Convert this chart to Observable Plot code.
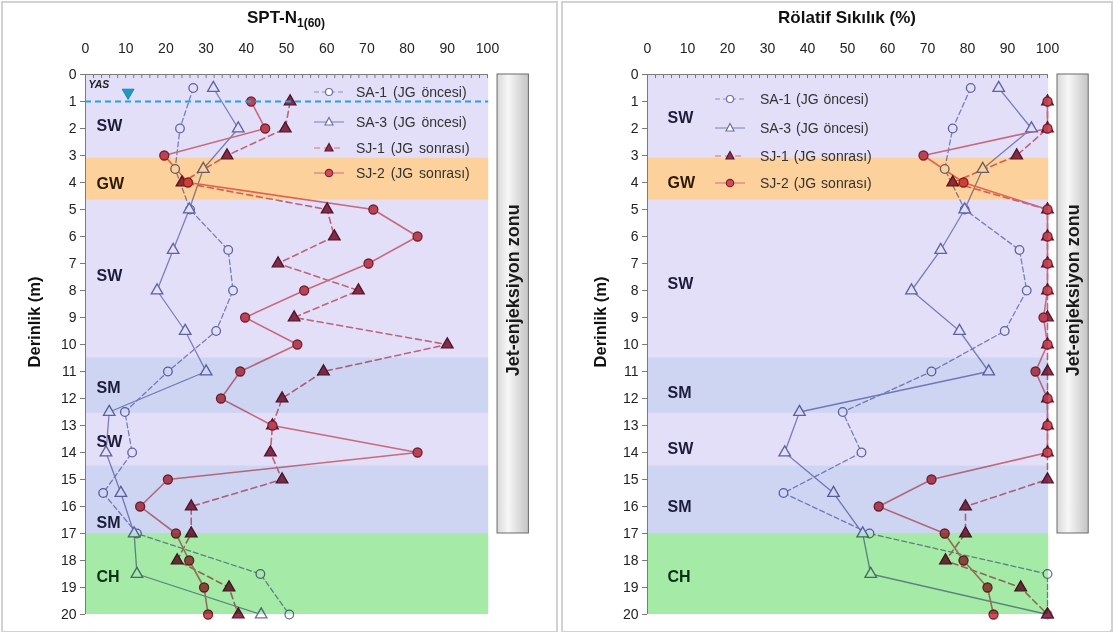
<!DOCTYPE html>
<html><head><meta charset="utf-8">
<script src="https://cdn.jsdelivr.net/npm/d3@7"></script>
<script src="https://cdn.jsdelivr.net/npm/@observablehq/plot@0.6"></script>
<style>
body{margin:0;background:#fff;font-family:"Liberation Sans",Arial,sans-serif;}
#root{position:relative;width:1114px;height:634px;overflow:hidden;background:#fff;}
.panel{position:absolute;top:1px;height:631px;border:2px solid #d2d2d2;box-sizing:border-box;}
.chart{position:absolute;top:3px;}
.title{position:absolute;top:8px;font-weight:bold;font-size:17px;transform:translateX(-50%);white-space:nowrap;color:#111;}
.title sub{font-size:12px;vertical-align:-4px;line-height:0;}
.ylab{position:absolute;font-weight:bold;font-size:16.5px;transform:translate(-50%,-50%) rotate(-90deg);white-space:nowrap;color:#111;}
.lrow{position:absolute;white-space:nowrap;display:flex;align-items:center;font-size:14px;color:#333;}
.lrow svg{display:block;}
</style></head>
<body><div id="root"></div>
<script>
// ---------------- DATA ----------------
const depthsSA = [0.5, 2, 3.5, 5, 6.5, 8, 9.5, 11, 12.5, 14, 15.5, 17, 18.5, 20];
const depthsSJ = [1, 2, 3, 4, 5, 6, 7, 8, 9, 10, 11, 12, 13, 14, 15, 16, 17, 18, 19, 20];

// SPT-N1(60)
const sptSA1 = [26.8, 23.5, 22.3, 26, 35.5, 36.7, 32.5, 20.5, 9.8, 11.6, 4.4, 12.8, 43.5, 50.7];
const sptSA3 = [31.8, 38, 29.3, 25.8, 21.8, 17.8, 24.8, 30, 5.9, 5.1, 8.8, 12.1, 12.8, 43.7];
const sptSJ1 = [50.9, 49.7, 35.2, 24, 60.1, 61.9, 47.9, 67.9, 51.9, 90, 59.2, 48.9, 46.5, 46, 48.9, 26.3, 26.3, 22.8, 35.7, 38];
const sptSJ2 = [41.2, 44.7, 19.6, 25.5, 71.6, 82.6, 70.4, 54.4, 39.7, 52.7, 38.5, 33.7, 46.5, 82.6, 20.5, 13.6, 22.5, 25.8, 29.5, 30.5];

// Rölatif Sıkılık (%)
const drSA1 = [80.8, 76.3, 74.3, 79.3, 93, 94.8, 89.3, 71, 48.8, 53.5, 34, 55.5, 100, 100];
const drSA3 = [87.8, 96, 83.8, 79.3, 73.3, 66, 78, 85.3, 38, 34.3, 46.5, 53.8, 55.8, 100];
const drSJ1 = [100, 100, 92.3, 76.3, 100, 100, 100, 100, 100, 100, 100, 100, 100, 100, 100, 79.5, 79.5, 74.5, 93.3, 100];
const drSJ2 = [100, 100, 69, 79, 100, 100, 100, 100, 99, 100, 97, 100, 100, 100, 71, 57.8, 74.3, 79, 85, 86.5];

const seriesNames = ["SA-1 (JG öncesi)", "SA-3 (JG öncesi)", "SJ-1 (JG sonrası)", "SJ-2 (JG sonrası)"];

// soil layers
const soilNames = ["SW", "GW", "SW", "SM", "SW", "SM", "CH"];
const soilTops = [0, 3.1, 4.65, 10.5, 12.55, 14.5, 17];
const soilBottoms = [3.1, 4.65, 10.5, 12.55, 14.5, 17, 20];
const soilLabelDepthL = [1.9, 4.05, 7.45, 11.6, 13.6, 16.6, 18.6];
const soilLabelDepthR = [1.6, 4.0, 7.75, 11.8, 13.85, 16.0, 18.6];

const waterTableDepth = 1;
const jetZoneTop = 0, jetZoneBottom = 17;

const xTicks = [0, 10, 20, 30, 40, 50, 60, 70, 80, 90, 100];
const yTicks = [0, 1, 2, 3, 4, 5, 6, 7, 8, 9, 10, 11, 12, 13, 14, 15, 16, 17, 18, 19, 20];

// ---------------- STYLES ----------------
const soilColor = {SW: "#e3dff8", GW: "#fdd19c", SM: "#cdd5f3", CH: "#a5eaa7"};
const soilText = {SW: "#1c1c3a", GW: "#2c1a06", SM: "#1c1c3a", CH: "#0b3212"};
const styles = [
  {stroke: "#8a90bf", dash: "5,3", symbol: "circle", fill: "white", mstroke: "#6a70a4", r: 4.3, sw: 1.3},
  {stroke: "#8a90bf", dash: null, symbol: "triangle", fill: "white", mstroke: "#6a70a4", r: 4.3, sw: 1.3},
  {stroke: "#d8727f", dash: "6,4", symbol: "triangle", fill: "#93324c", mstroke: "#5e1628", r: 4.3, sw: 1.6},
  {stroke: "#e07a80", dash: null, symbol: "circle", fill: "#d04c58", mstroke: "#86232f", r: 4.5, sw: 1.6}
];

const bands = soilNames.map((n, i) => ({name: n, top: soilTops[i], bottom: soilBottoms[i]}));

function buildSeries(vals, depths, k) { return vals.map((v, i) => ({x: v, depth: depths[i], k})); }

const root = document.getElementById("root");

function makePanel(cfg) {
  const panel = document.createElement("div");
  panel.className = "panel";
  panel.style.left = cfg.panelLeft + "px";
  panel.style.width = cfg.panelWidth + "px";
  root.appendChild(panel);

  const sets = [
    buildSeries(cfg.vals[0], depthsSA, 0),
    buildSeries(cfg.vals[1], depthsSA, 1),
    buildSeries(cfg.vals[2], depthsSJ, 2),
    buildSeries(cfg.vals[3], depthsSJ, 3)
  ];
  const gradId = "jetGrad" + cfg.id;
  const marks = [];
  marks.push(() => {
    const defs = d3.create("svg:defs");
    const g = defs.append("linearGradient").attr("id", gradId).attr("x1", "0").attr("x2", "1").attr("y1", "0").attr("y2", "0");
    g.append("stop").attr("offset", "0%").attr("stop-color", "#d8d8d8");
    g.append("stop").attr("offset", "35%").attr("stop-color", "#f7f7f7");
    g.append("stop").attr("offset", "100%").attr("stop-color", "#c4c4c4");
    return defs.node();
  });
  sets.forEach((d, k) => {
    const s = styles[k];
    marks.push(Plot.line(d, {x: "x", y: "depth", stroke: s.stroke, strokeWidth: s.sw, strokeDasharray: s.dash || undefined}));
  });
  sets.forEach((d, k) => {
    const s = styles[k];
    marks.push(Plot.dot(d, {x: "x", y: "depth", symbol: s.symbol, r: s.r, fill: s.fill, stroke: s.mstroke, strokeWidth: 1.3}));
  });
  marks.push(Plot.rect(bands, {x1: 0, x2: 100.3, y1: "top", y2: "bottom", fill: d => soilColor[d.name], ariaLabel: "soil-bands", mixBlendMode: "multiply"}));
  if (cfg.water) {
    const wt = [{depth: waterTableDepth}];
    marks.push(Plot.ruleY(wt, {y: "depth", x1: 0, x2: 100.3, stroke: "#1fa6dd", strokeWidth: 2.2, strokeDasharray: "6,4"}));
    marks.push(Plot.dot(wt, {x: 10.6, y: d => d.depth - 0.33, symbol: "triangle", rotate: 180, r: 4.4, fill: "#1b9ac4", stroke: "#157a9c", strokeWidth: 0.8}));
    marks.push(Plot.text(["YAS"], {frameAnchor: "top-left", dx: 3, dy: 6, fontSize: 10.5, fontStyle: "italic", fontWeight: "bold", fill: "#222"}));
  }
  // axes
  marks.push(Plot.ruleY([0], {stroke: "#7a7a7a"}));
  marks.push(Plot.ruleX([0], {stroke: "#7a7a7a"}));
  marks.push(Plot.ruleX(d3.range(0, 101, 2), {x: d => d, y1: 0, y2: 0.15, stroke: "#7a7a7a"}));
  marks.push(Plot.axisX(xTicks, {anchor: "top", tickSize: 0, tickPadding: 22, fontSize: 14, fill: "#222", label: null}));
  marks.push(Plot.axisY(yTicks, {anchor: "left", tickSize: 5, text: null, stroke: "#7a7a7a", label: null}));
  marks.push(Plot.axisY(yTicks, {anchor: "left", tickSize: 0, tickPadding: 9, fontSize: 14, fill: "#222", label: null}));
  // soil labels
  marks.push(Plot.text(bands.map((b, i) => ({...b, ly: cfg.labelDepth[i]})), {
    y: "ly", text: "name", frameAnchor: "left", dx: cfg.labelDx, textAnchor: "start",
    fontSize: 16, fontWeight: "bold", fill: d => soilText[d.name]
  }));
  // jet-grout zone box
  const jz = [{top: jetZoneTop, bottom: jetZoneBottom}];
  marks.push(Plot.rect(jz, {x1: 102.5, x2: 110.3, y1: "top", y2: "bottom", fill: `url(#${gradId})`, stroke: "#6a6a6a", strokeWidth: 1}));
  marks.push(Plot.text(jz, {x: 106.4, y: d => d.top + (d.bottom - d.top) * 0.47, text: () => "Jet-enjeksiyon zonu", rotate: -90, fontSize: 18, fontWeight: "bold", fill: "#1a1a1a"}));

  const chart = Plot.plot({
    width: cfg.width, height: 628,
    marginTop: 71, marginBottom: 17, marginLeft: cfg.ml, marginRight: cfg.mr,
    x: {domain: [0, 100], axis: null},
    y: {domain: [0, 20], reverse: true, axis: null, label: null},
    style: {fontFamily: "Liberation Sans, Arial, sans-serif", background: "white", overflow: "visible"},
    marks
  });
  d3.select(chart).selectAll('g[aria-label="soil-bands"]').style("mix-blend-mode", "multiply");
  chart.classList.add("chart");
  chart.style.left = cfg.svgLeft + "px";
  chart.style.position = "absolute";
  chart.style.top = "3px";
  root.appendChild(chart);

  // title
  const t = document.createElement("div");
  t.className = "title";
  t.style.left = cfg.titleX + "px";
  t.innerHTML = cfg.title;
  root.appendChild(t);
  // y label
  const yl = document.createElement("div");
  yl.className = "ylab";
  yl.style.left = cfg.ylabX + "px";
  yl.style.top = "322px";
  yl.textContent = "Derinlik (m)";
  root.appendChild(yl);
  // legend
  seriesNames.forEach((name, k) => {
    const s = styles[k];
    const row = document.createElement("div");
    row.className = "lrow";
    row.style.left = cfg.legX + "px";
    row.style.top = (cfg.legY[k] - 8) + "px";
    row.style.height = "16px";
    const sym = s.symbol === "circle"
      ? `<circle cx="17" cy="8" r="${s.r - 0.8}" fill="${s.fill}" stroke="${s.mstroke}" stroke-width="1.2"/>`
      : `<path d="M17,3.5 L21,11 L13,11 Z" fill="${s.fill}" stroke="${s.mstroke}" stroke-width="1.2"/>`;
    row.innerHTML = `<svg width="34" height="16"><line x1="2" x2="32" y1="8" y2="8" stroke="${s.stroke}" stroke-width="1.2" ${s.dash ? `stroke-dasharray="${s.dash}"` : ""}/>${sym}</svg><span style="margin-left:${cfg.legGap}px;word-spacing:${cfg.wordSp}px">${name}</span>`;
    root.appendChild(row);
  });
}

makePanel({
  id: "L", panelLeft: 1, panelWidth: 557, svgLeft: 3, width: 553, ml: 82, mr: 69,
  vals: [sptSA1, sptSA3, sptSJ1, sptSJ2], water: true,
  labelDepth: soilLabelDepthL, labelDx: 11,
  title: "SPT-N<sub>1(60)</sub>", titleX: 286, ylabX: 34,
  legX: 312, legY: [92, 122, 148, 173], legGap: 10, wordSp: 2
});
makePanel({
  id: "R", panelLeft: 561, panelWidth: 552, svgLeft: 563, width: 547, ml: 84, mr: 63,
  vals: [drSA1, drSA3, drSJ1, drSJ2], water: false,
  labelDepth: soilLabelDepthR, labelDx: 20,
  title: "Rölatif Sıkılık (%)", titleX: 847, ylabX: 600,
  legX: 713, legY: [99, 128, 156, 183], legGap: 13, wordSp: 1
});
</script>
</body></html>
